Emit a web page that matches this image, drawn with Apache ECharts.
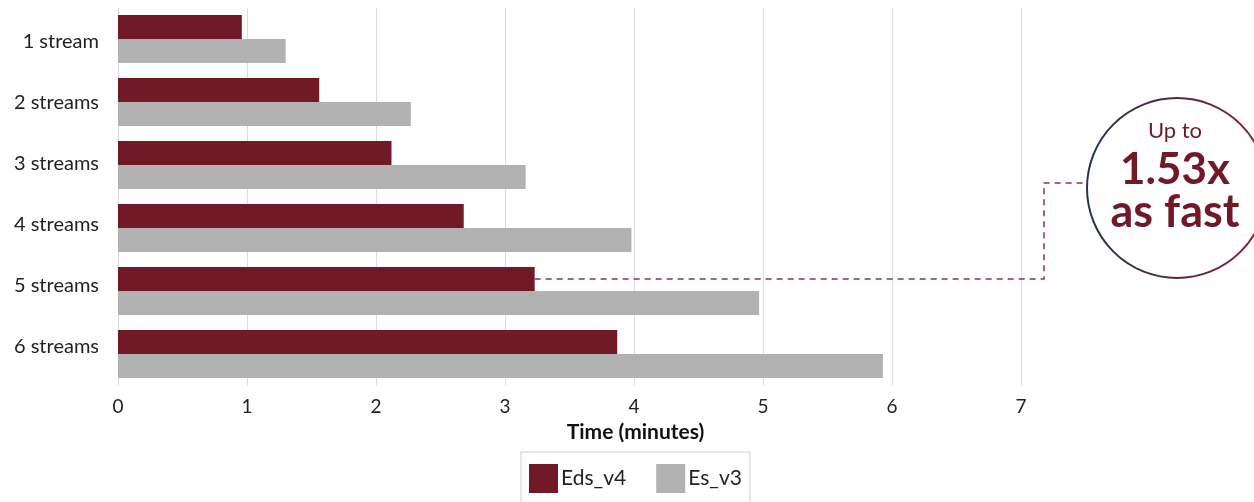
<!DOCTYPE html>
<html><head><meta charset="utf-8">
<script src="https://cdn.jsdelivr.net/npm/echarts@6/dist/echarts.min.js"></script>
<style>html,body{margin:0;padding:0;background:#fff}#c{width:1254px;height:502px}</style>
</head><body><div id="c"></div>
<script>
const categories = ['1 stream','2 streams','3 streams','4 streams','5 streams','6 streams'];
const edsV4 = [0.96, 1.56, 2.12, 2.68, 3.23, 3.87];
const esV3 = [1.30, 2.27, 3.16, 3.98, 4.97, 5.93];
const xTicks = [0,1,2,3,4,5,6,7];
const seriesNames = ['Eds_v4','Es_v3'];
const RED = '#721928', GRAY = '#b2b2b2';
const FONT = 'Lato, "Noto Sans", sans-serif';

const chart = echarts.init(document.getElementById('c'), null, {renderer:'canvas'});
const catGap = 0.24;
chart.setOption({
  animation:false,
  textStyle:{fontFamily:FONT},
  grid:[
    {left:118, right:233, top:7.5, bottom:116.5, containLabel:false},
    {left:118, right:233, top:11.5, bottom:124.5, containLabel:false}
  ],
  xAxis:[
    {type:'value', gridIndex:0, min:xTicks[0], max:xTicks[xTicks.length-1], interval:1,
    name:'Time (minutes)', nameLocation:'middle', nameGap:36,
    nameTextStyle:{fontFamily:FONT, fontWeight:'bold', fontSize:21, color:'#111', padding:[0,0,0,132]},
    axisLine:{show:false}, axisTick:{show:false},
    axisLabel:{fontFamily:FONT, fontSize:19, color:'#222', margin:12},
    splitLine:{show:true, lineStyle:{color:'#dcdcdc', width:1}}},
    {type:'value', gridIndex:1, min:0, max:7, show:false}
  ],
  yAxis:[
    {type:'category', gridIndex:0, data:categories, inverse:true,
    axisLine:{show:false}, axisTick:{show:false}, axisLabel:{show:false}},
    {type:'category', gridIndex:1, data:categories, inverse:true,
    axisLine:{show:false}, axisTick:{show:false}, splitLine:{show:false},
    axisLabel:{fontFamily:FONT, fontSize:20, color:'#222', margin:19}}
  ],
  legend:{data:seriesNames, left:521, top:452, itemWidth:29, itemHeight:29, itemGap:30,
    borderColor:'#d0d0d0', borderWidth:1, padding:[12,8,20,8], icon:'rect',
    textStyle:{fontFamily:FONT, fontSize:21, color:'#222', padding:[0,0,0,-2]}},
  series:[
    {name:seriesNames[0], type:'bar', data:edsV4, barGap:'0%', barCategoryGap:(catGap*100)+'%', itemStyle:{color:RED}},
    {name:seriesNames[1], type:'bar', data:esV3, barGap:'0%', barCategoryGap:(catGap*100)+'%', itemStyle:{color:GRAY}}
  ]
});

// annotation: from end of 5-stream Eds_v4 bar
const idx = 4;
const p = chart.convertToPixel({gridIndex:0}, [edsV4[idx], idx]);
const p2 = chart.convertToPixel({gridIndex:0}, [0, idx+1]);
const band = p2[1] - p[1];
const yBar = p[1] - band*(1-catGap)/4;
const cx = 1177, cy = 188, r = 90;
chart.setOption({
  graphic:[
    {type:'polyline', shape:{points:[[p[0], yBar],[1044, yBar],[1044, 183],[cx - r, 183]]},
      style:{stroke:'#8a3445', lineWidth:1.5, lineDash:[6,5], fill:null}, z:10},
    {type:'circle', shape:{cx:cx, cy:cy, r:r},
      style:{fill:'#fff', lineWidth:2,
        stroke:new echarts.graphic.LinearGradient(0,0,1,0,[{offset:0,color:'#1d3553'},{offset:0.5,color:'#5a2540'},{offset:1,color:'#8a2436'}])}, z:11},
    {type:'text', x:cx-2, y:131, style:{text:'Up to', font:'22px '+FONT, fill:RED, textAlign:'center', textVerticalAlign:'middle'}, z:12},
    {type:'text', x:cx-2, y:170, style:{text:'1.53x', font:'bold 44px '+FONT, fill:RED, textAlign:'center', textVerticalAlign:'middle'}, z:12},
    {type:'text', x:cx-2, y:212, style:{text:'as fast', font:'bold 45px '+FONT, fill:RED, textAlign:'center', textVerticalAlign:'middle'}, z:12}
  ]
});
</script></body></html>
